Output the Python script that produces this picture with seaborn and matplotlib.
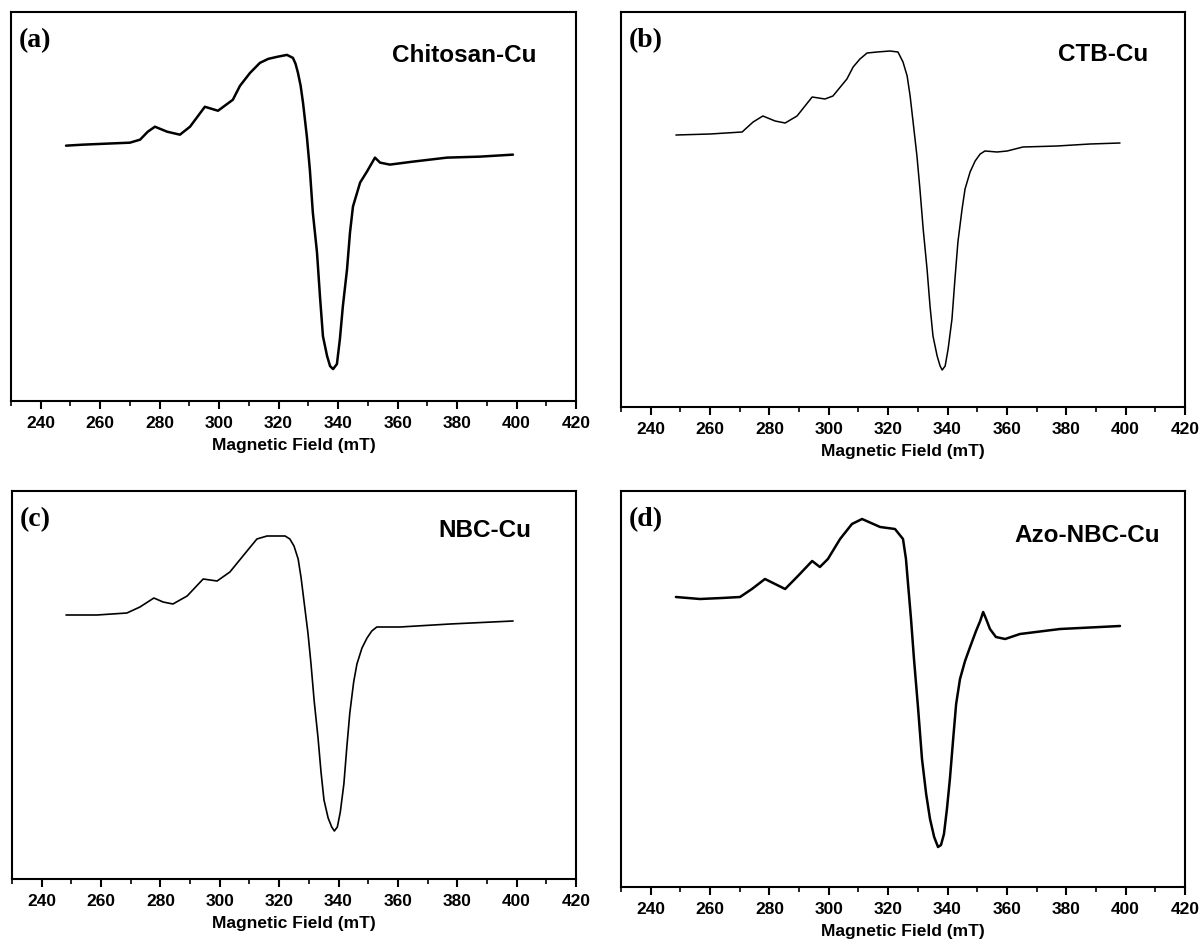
import matplotlib
matplotlib.use("Agg")
import matplotlib.pyplot as plt
from matplotlib.ticker import MultipleLocator
import seaborn as sns

# EPR spectra, field in mT, intensity in arbitrary units
field_a = [248.5, 254.2, 262.0, 270.0, 273.4, 276.0, 278.4, 282.5, 286.8, 290.2,
           295.2, 299.6, 304.6, 307.0, 310.4, 313.7, 316.5, 319.4, 322.8, 324.8,
           325.7, 326.5, 327.4, 328.2, 329.5, 330.5, 331.5, 332.9, 333.9, 334.9,
           336.3, 337.3, 338.3, 339.6, 340.6, 341.6, 343.0, 344.0, 345.0, 347.4,
           349.7, 352.4, 354.1, 357.4, 365.2, 376.6, 387.7, 398.8]
int_a = [256, 257, 258, 259, 262, 270, 275, 270, 267, 275,
         295, 291, 302, 316, 329, 339, 343, 345, 347, 344,
         338, 329, 316, 299, 265, 232, 189, 149, 105, 65,
         45, 35, 32, 37, 62, 95, 132, 169, 195, 219,
         230, 244, 239, 237, 240, 244, 245, 247]

field_b = [248.5, 260.0, 270.8, 274.5, 277.8, 281.9, 285.3, 289.3, 294.4, 298.7,
           301.4, 306.1, 308.2, 310.5, 312.9, 316.3, 320.6, 323.3, 325.0, 326.4,
           327.4, 328.4, 329.7, 330.7, 331.8, 333.1, 334.1, 335.1, 336.5, 337.5,
           338.2, 339.2, 340.2, 341.5, 342.5, 343.5, 344.9, 345.9, 347.6, 349.3,
           351.0, 352.6, 356.7, 360.1, 365.4, 376.9, 388.0, 398.1]
int_b = [272, 273, 275, 285, 291, 286, 284, 291, 310, 308,
         311, 328, 340, 348, 354, 355, 356, 355, 345, 331,
         311, 285, 251, 218, 178, 138, 101, 71, 51, 41,
         37, 41, 58, 88, 128, 165, 198, 218, 235, 246,
         253, 256, 255, 256, 260, 261, 263, 264]

field_c = [248.2, 258.6, 268.7, 273.1, 277.8, 280.9, 284.2, 289.0, 294.4, 299.1,
           303.4, 307.8, 312.5, 315.9, 322.0, 323.6, 325.0, 326.4, 327.4, 328.4,
           329.7, 330.7, 331.8, 333.1, 334.1, 335.1, 336.5, 337.7, 338.6, 339.6,
           340.6, 341.8, 342.8, 343.8, 345.1, 346.2, 347.9, 349.6, 351.2, 352.9,
           360.7, 377.6, 398.8]
int_c = [264, 264, 266, 272, 281, 277, 275, 283, 300, 298,
         307, 323, 340, 343, 343, 340, 333, 320, 301, 277,
         246, 216, 178, 141, 107, 79, 61, 52, 48, 52,
         67, 95, 132, 166, 197, 215, 231, 241, 248, 252,
         252, 255, 258]

field_d = [248.5, 256.6, 264.0, 270.1, 274.1, 278.5, 281.9, 285.3, 289.6, 294.4,
           297.0, 299.7, 303.8, 307.8, 311.2, 317.3, 322.3, 325.0, 326.0, 326.7,
           327.7, 328.7, 330.1, 331.4, 332.8, 334.1, 335.5, 336.8, 337.8, 338.8,
           339.8, 340.8, 341.9, 342.9, 344.2, 345.9, 347.6, 349.6, 351.0, 352.0,
           353.0, 354.3, 356.3, 359.4, 364.4, 377.9, 391.4, 398.1]
int_d = [290, 288, 289, 290, 298, 308, 303, 298, 311, 326,
         320, 328, 348, 363, 368, 360, 358, 348, 328, 303,
         268, 228, 178, 128, 93, 68, 50, 40, 42, 53,
         78, 108, 148, 183, 208, 226, 240, 256, 266, 275,
         268, 258, 250, 248, 253, 258, 260, 261]

panel_tags = ["(a)", "(b)", "(c)", "(d)"]
sample_names = ["Chitosan-Cu", "CTB-Cu", "NBC-Cu", "Azo-NBC-Cu"]

sns.set_theme(style="ticks")
plt.rcParams["font.family"] = ["Liberation Sans", "DejaVu Sans"]
plt.rcParams["text.color"] = "black"
plt.rcParams["axes.labelcolor"] = "black"
plt.rcParams["xtick.color"] = "black"

fig = plt.figure(figsize=(12.04, 9.45), dpi=100)
W, H = 1204, 945
# axes boxes in pixels: left, top, right, bottom
boxes = [(11, 13, 576, 402), (621, 13, 1185, 408),
         (12, 492, 576, 880), (621, 492, 1185, 888)]
ylims = [390, 395, 388, 396]
name_x = [0.93, 0.935, 0.92, 0.955]
name_y = [0.89, 0.895, 0.90, 0.89]
widths = [1.8, 1.1, 1.2, 1.8]
series = [(field_a, int_a), (field_b, int_b), (field_c, int_c), (field_d, int_d)]

for i, (l, t, r, b) in enumerate(boxes):
    ax = fig.add_axes([l / W, 1 - b / H, (r - l) / W, (b - t) / H])
    x, y = series[i]
    sns.lineplot(x=x, y=y, ax=ax, color="black", lw=widths[i],
                 estimator=None, sort=False)
    ax.set_xlim(230, 420)
    ax.set_ylim(0, ylims[i])
    ax.xaxis.set_major_locator(MultipleLocator(20))
    ax.xaxis.set_minor_locator(MultipleLocator(10))
    ax.tick_params(axis="x", which="major", direction="out", length=6, width=1.5,
                   labelsize=12.5, pad=4)
    ax.tick_params(axis="x", which="minor", direction="out", length=3.5, width=1.2)
    ax.set_yticks([])
    for lab in ax.get_xticklabels():
        lab.set_fontweight("bold")
    for s in ax.spines.values():
        s.set_color("black")
        s.set_linewidth(1.5)
    ax.set_xlabel("Magnetic Field (mT)", fontsize=12.5, fontweight="bold",
                  labelpad=5)
    ax.set_ylabel("")
    ax.text(0.013, 0.93, panel_tags[i], transform=ax.transAxes, ha="left",
            va="center", fontsize=20, fontweight="bold",
            family=["Liberation Serif", "DejaVu Serif"])
    ax.text(name_x[i], name_y[i], sample_names[i], transform=ax.transAxes,
            ha="right", va="center", fontsize=17.5, fontweight="bold")

fig.savefig("out.png", dpi=100, facecolor="white")
